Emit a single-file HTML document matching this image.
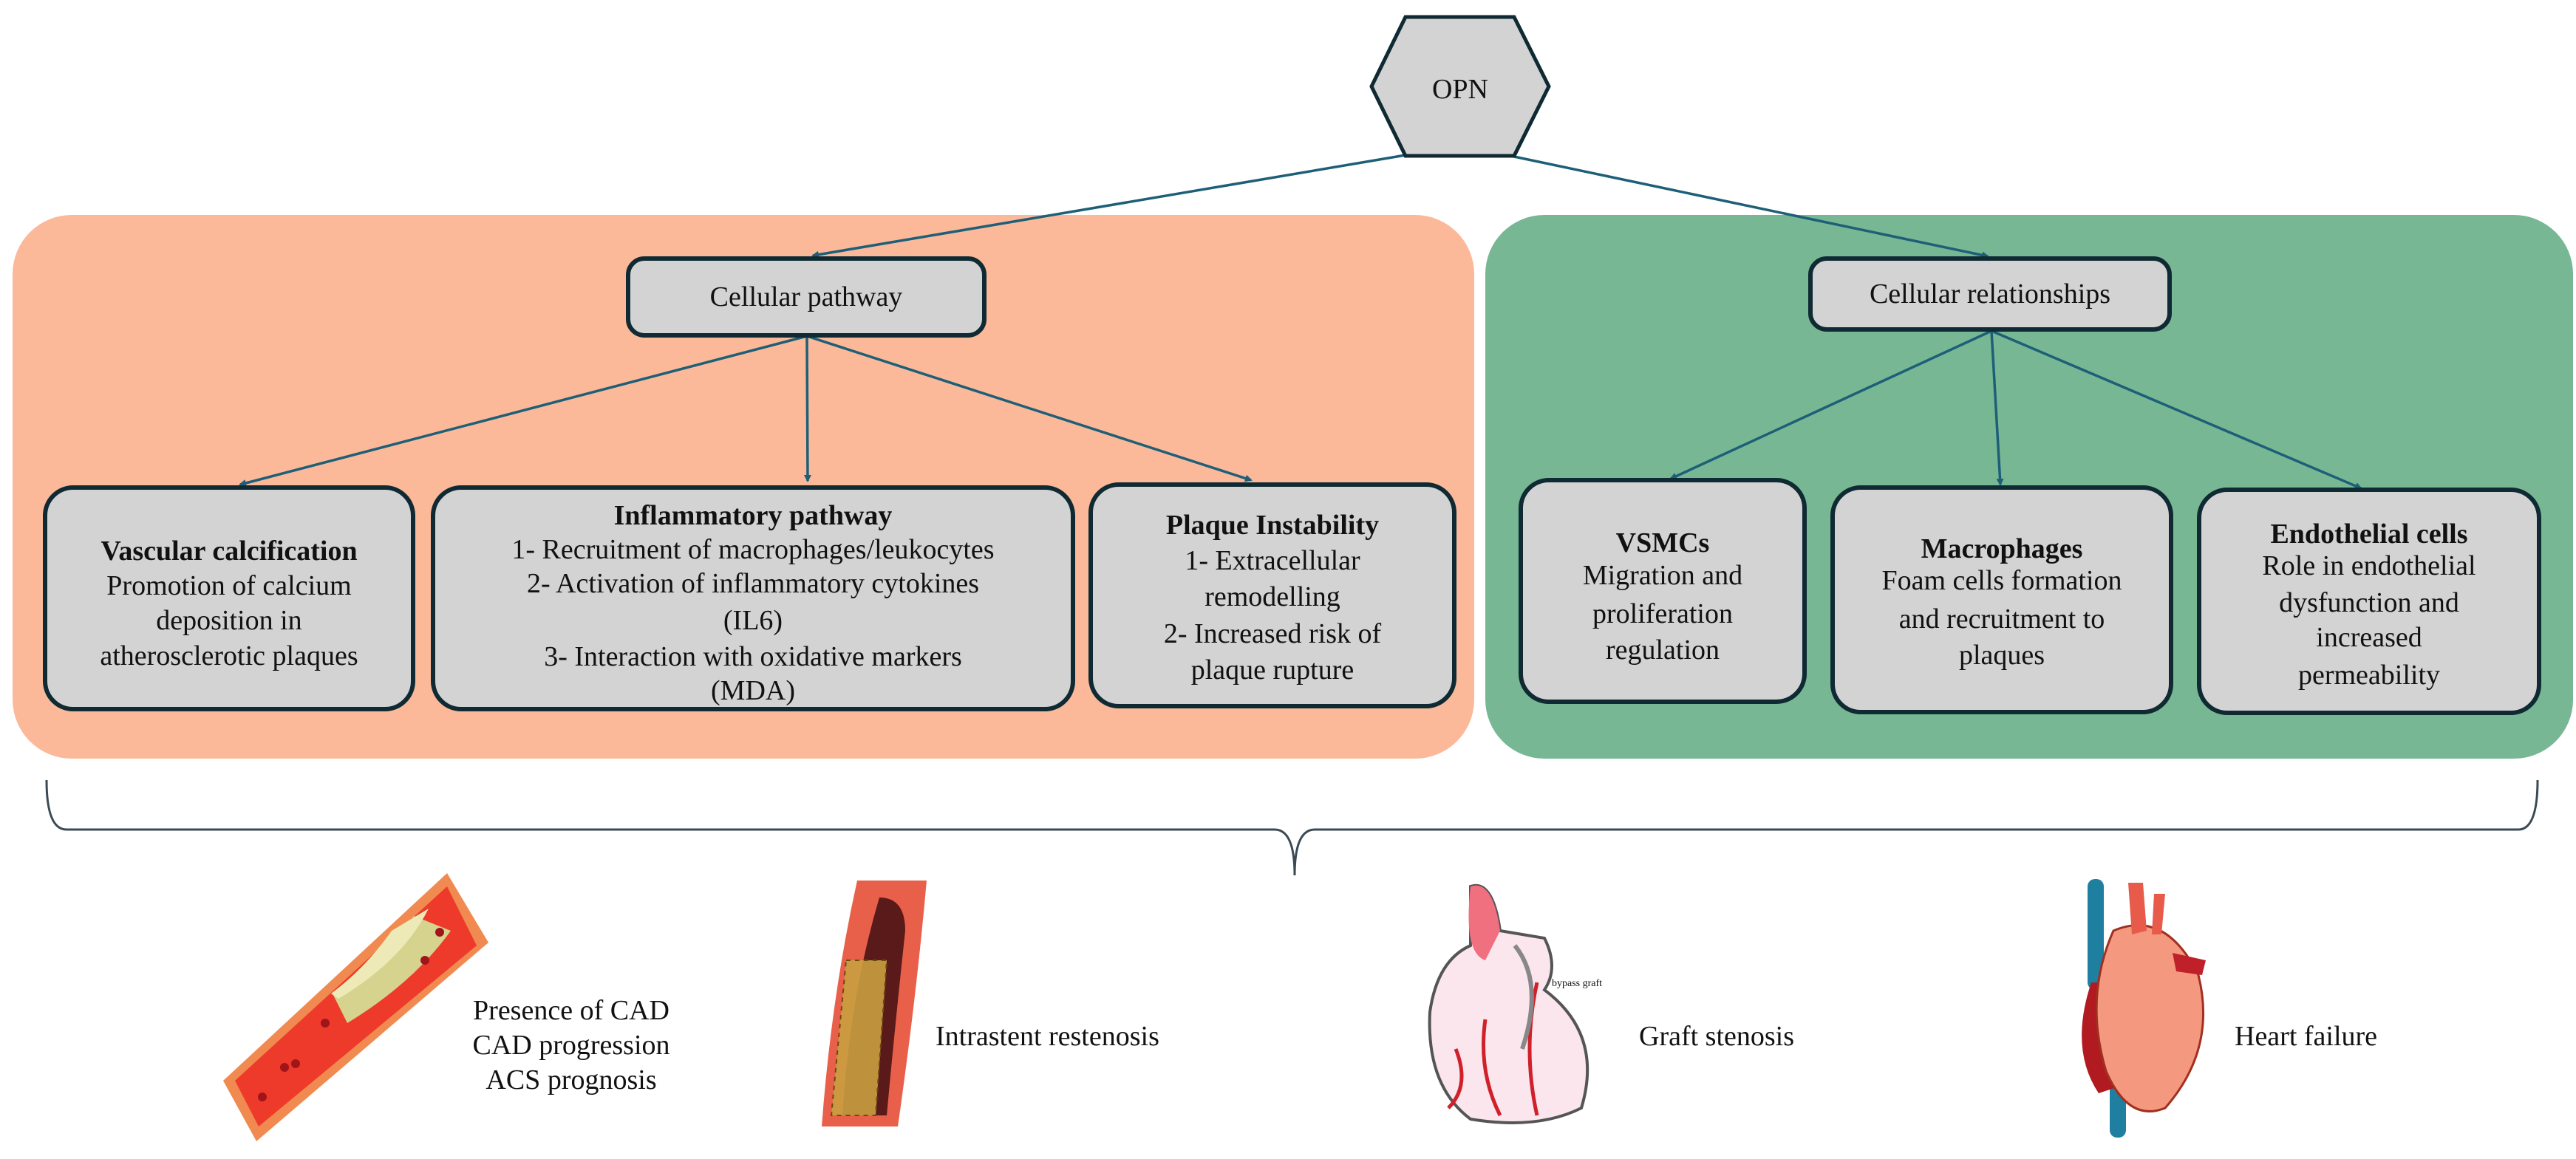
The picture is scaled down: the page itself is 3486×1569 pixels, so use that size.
<!DOCTYPE html>
<html><head><meta charset="utf-8"><style>
html,body{margin:0;padding:0;background:#fff;}
svg{display:block;}
svg text{font-family:"Liberation Serif","DejaVu Serif",serif !important;font-size:38px;fill:#111;}
.b{font-weight:bold;}
</style></head><body>
<svg width="3486" height="1569" viewBox="0 0 3486 1569" xmlns="http://www.w3.org/2000/svg" font-family="Liberation Serif, serif">
<defs>
<marker id="ah" markerWidth="10" markerHeight="10" refX="8" refY="5" orient="auto" markerUnits="userSpaceOnUse" viewBox="0 0 10 10">
<path d="M0,0 L10,5 L0,10 z" fill="#1e5f78"/>
</marker>
</defs>
<rect x="17" y="291" width="1978" height="736" rx="80" fill="#fbb99a"/>
<rect x="2010" y="291" width="1472" height="736" rx="80" fill="#78b793"/>
<g stroke="#1e5f78" stroke-width="3.5" fill="none" marker-end="url(#ah)">
<line x1="1902" y1="210" x2="1100" y2="346"/>
<line x1="2049" y1="212" x2="2690" y2="347"/>
<line x1="1092" y1="455" x2="325" y2="656"/>
<line x1="1092" y1="455" x2="1093" y2="651"/>
<line x1="1092" y1="455" x2="1693" y2="650"/>
<line x1="2695" y1="448" x2="2261" y2="648"/>
<line x1="2695" y1="448" x2="2707" y2="656"/>
<line x1="2695" y1="448" x2="3195" y2="661"/>
</g>
<polygon points="1902,23 2049,23 2096,117 2049,211 1902,211 1856,117" fill="#d3d3d3" stroke="#0f2a33" stroke-width="5"/>
<text x="1976" y="133" text-anchor="middle">OPN</text>
<g fill="#d3d3d3" stroke="#0f2a33" stroke-width="6">
<rect x="850" y="350" width="482" height="104" rx="22"/>
<rect x="2450" y="350" width="486" height="96" rx="22"/>
<rect x="61" y="660" width="498" height="300" rx="38"/>
<rect x="586" y="660" width="866" height="300" rx="38"/>
<rect x="1476" y="656" width="492" height="300" rx="38"/>
<rect x="2058" y="650" width="384" height="300" rx="38"/>
<rect x="2480" y="660" width="458" height="304" rx="38"/>
<rect x="2976" y="663" width="460" height="302" rx="38"/>
</g>
<text x="1091" y="414" text-anchor="middle">Cellular pathway</text>
<text x="2693" y="410" text-anchor="middle">Cellular relationships</text>
<g text-anchor="middle">
<text x="310" y="758" class="b">Vascular calcification</text>
<text x="310" y="805">Promotion of calcium</text>
<text x="310" y="852">deposition in</text>
<text x="310" y="900">atherosclerotic plaques</text>

<text x="1019" y="710" class="b">Inflammatory pathway</text>
<text x="1019" y="756">1- Recruitment of macrophages/leukocytes</text>
<text x="1019" y="802">2- Activation of inflammatory cytokines</text>
<text x="1019" y="852">(IL6)</text>
<text x="1019" y="901">3- Interaction with oxidative markers</text>
<text x="1019" y="947">(MDA)</text>

<text x="1722" y="723" class="b">Plaque Instability</text>
<text x="1722" y="771">1- Extracellular</text>
<text x="1722" y="820">remodelling</text>
<text x="1722" y="870">2- Increased risk of</text>
<text x="1722" y="919">plaque rupture</text>

<text x="2250" y="747" class="b">VSMCs</text>
<text x="2250" y="791">Migration and</text>
<text x="2250" y="843">proliferation</text>
<text x="2250" y="892">regulation</text>

<text x="2709" y="755" class="b">Macrophages</text>
<text x="2709" y="798">Foam cells formation</text>
<text x="2709" y="850">and recruitment to</text>
<text x="2709" y="899">plaques</text>

<text x="3206" y="735" class="b">Endothelial cells</text>
<text x="3206" y="778">Role in endothelial</text>
<text x="3206" y="828">dysfunction and</text>
<text x="3206" y="875">increased</text>
<text x="3206" y="926">permeability</text>
</g>
<path d="M63,1056 Q63,1123 90,1123 L1725,1123 Q1752,1123 1752,1185 Q1752,1123 1779,1123 L3408,1123 Q3434,1123 3434,1056" fill="none" stroke="#3a4a55" stroke-width="3"/>
<g>
<polygon points="605,1182 661,1276 347,1545 302,1463" fill="#f08a50"/>
<polygon points="605,1200 645,1280 350,1525 318,1463" fill="#ee3a2a"/>
<path d="M560,1240 Q520,1300 450,1345 L470,1385 Q560,1330 610,1260 z" fill="#d6d38f"/>
<path d="M530,1260 Q495,1310 448,1345 L458,1352 Q545,1300 580,1230 z" fill="#eeeab8"/>
<circle cx="595" cy="1262" r="6" fill="#a0141a"/><circle cx="575" cy="1300" r="6" fill="#a0141a"/>
<circle cx="440" cy="1385" r="6" fill="#a0141a"/><circle cx="385" cy="1445" r="6" fill="#a0141a"/><circle cx="400" cy="1440" r="6" fill="#a0141a"/><circle cx="355" cy="1485" r="6" fill="#a0141a"/>
</g>
<g text-anchor="middle">
<text x="773" y="1380">Presence of CAD</text>
<text x="773" y="1427">CAD progression</text>
<text x="773" y="1474">ACS prognosis</text>
</g>
<path d="M1160,1192 L1254,1192 Q1240,1350 1215,1525 L1112,1525 Q1125,1350 1160,1192 z" fill="#e8604a"/>
<path d="M1190,1215 Q1225,1215 1225,1260 Q1210,1400 1200,1510 L1140,1510 Q1150,1350 1190,1215 z" fill="#5a1a1a"/>
<path d="M1145,1300 L1200,1300 L1185,1510 L1125,1510 z" fill="#c9a040" opacity="0.9"/>
<path d="M1145,1300 L1200,1300 L1185,1510 L1125,1510 z" fill="none" stroke="#6a4a10" stroke-width="2" stroke-dasharray="6 6"/>
<text x="1266" y="1415">Intrastent restenosis</text>
<path d="M1990,1200 Q2020,1190 2030,1260 L2090,1270 Q2110,1310 2090,1340 Q2170,1400 2140,1500 Q2080,1530 1990,1515 Q1930,1470 1935,1370 Q1945,1300 1990,1280 z" fill="#fbe6ee" stroke="#555" stroke-width="4"/>
<path d="M1990,1200 Q2020,1190 2030,1260 L2010,1300 Q1980,1290 1990,1200 z" fill="#f07080"/>
<path d="M2080,1330 Q2060,1420 2080,1510 M2010,1380 Q2000,1450 2030,1510 M1970,1420 Q1990,1470 1960,1500" stroke="#d0202a" stroke-width="5" fill="none"/>
<path d="M2050,1280 Q2090,1330 2060,1420" stroke="#888" stroke-width="6" fill="none"/>
<text x="2100" y="1335" style="font-size:14px;">bypass graft</text>
<text x="2218" y="1415">Graft stenosis</text>
<rect x="2825" y="1190" width="22" height="150" rx="10" fill="#1e7fa0"/>
<rect x="2855" y="1440" width="22" height="100" rx="10" fill="#1e7fa0"/>
<path d="M2830,1330 Q2800,1420 2840,1480 L2870,1470 Q2840,1400 2860,1330 z" fill="#b01a20"/>
<path d="M2860,1260 Q2930,1230 2975,1320 Q3000,1420 2930,1500 Q2880,1520 2850,1450 Q2820,1350 2860,1260 z" fill="#f59880" stroke="#a03020" stroke-width="3"/>
<path d="M2880,1195 L2900,1195 L2905,1260 L2885,1265 z M2915,1210 L2930,1210 L2925,1265 L2912,1265 z" fill="#e85a4a"/>
<path d="M2940,1290 L2985,1300 L2980,1320 L2945,1315 z" fill="#c0202a"/>
<text x="3024" y="1415">Heart failure</text>
</svg>
</body></html>
